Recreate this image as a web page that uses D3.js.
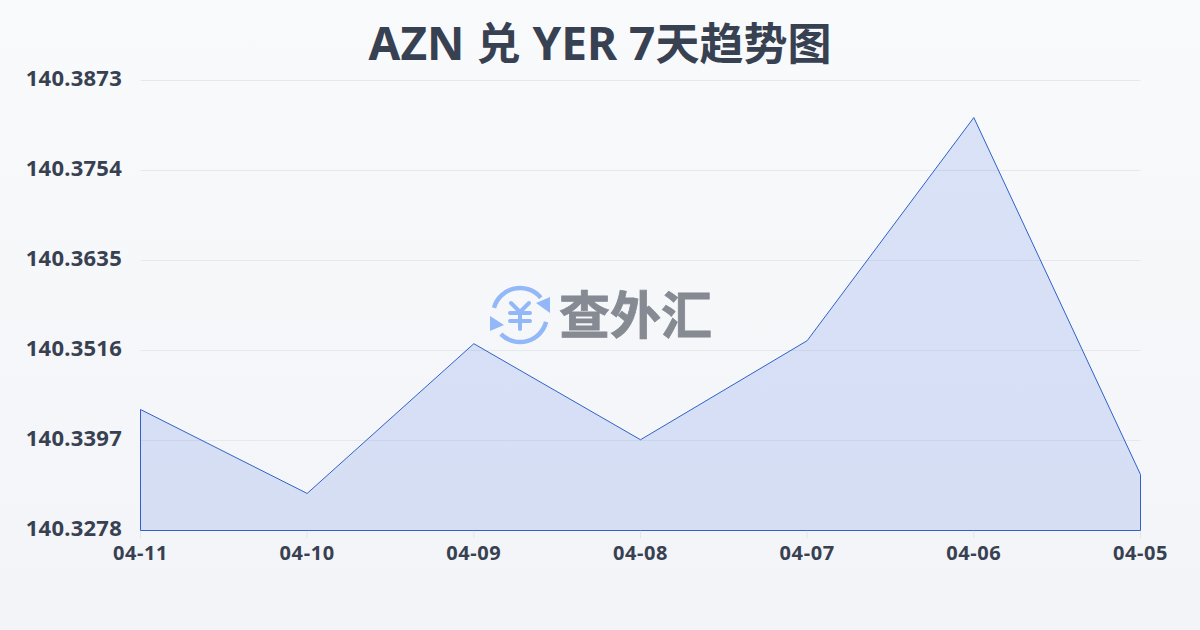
<!DOCTYPE html>
<html><head><meta charset="utf-8">
<style>html,body{margin:0;padding:0;background:#f5f6f9}svg{display:block}</style>
<script src="https://cdn.jsdelivr.net/npm/d3@7/dist/d3.min.js"></script></head>
<body><svg id="c" width="1200" height="630"></svg>
<script>
const dates=["04-11","04-10","04-09","04-08","04-07","04-06","04-05"];
const rates=[140.3438,140.3327,140.3525,140.3398,140.3529,140.3824,140.3352];
const yTicks=[140.3278,140.3397,140.3516,140.3635,140.3754,140.3873];
const titleParts=[["AZN ",46],["兑",44],[" YER 7",46],["天趋势图",44]];
const logoText="查外汇";
const FF='"Noto Sans","Noto Sans CJK SC",sans-serif';
const svg=d3.select("#c");
const defs=svg.append("defs");
const bg=defs.append("linearGradient").attr("id","bg").attr("x1",0).attr("x2",0).attr("y1",0).attr("y2",1);
bg.append("stop").attr("offset",0).attr("stop-color","#f9fafc");
bg.append("stop").attr("offset",1).attr("stop-color","#f3f4f7");
svg.append("rect").attr("width",1200).attr("height",630).attr("fill","url(#bg)");
const x=d3.scalePoint().domain(dates).range([140.5,1140.5]);
const y=d3.scaleLinear().domain([yTicks[0],yTicks[yTicks.length-1]]).range([530.5,80.5]);
svg.append("g").selectAll("line").data(yTicks.slice(1)).join("line")
 .attr("x1",140.5).attr("x2",1140.5).attr("y1",d=>y(d)).attr("y2",d=>y(d))
 .attr("stroke","#e6e8ec").attr("stroke-width",1);
svg.append("g").selectAll("line").data(dates).join("line")
 .attr("x1",d=>x(d)).attr("x2",d=>x(d)).attr("y1",530.5).attr("y2",538)
 .attr("stroke","#e3e5ea");
const area=d3.area().x((d,i)=>x(dates[i])).y0(y(yTicks[0])).y1(d=>y(d));
svg.append("path").datum(rates).attr("d",d=>area(d)+"Z")
 .attr("fill","#3f6fe0").attr("fill-opacity",0.17)
 .attr("stroke","#2f62c8").attr("stroke-width",1).attr("stroke-linejoin","miter");
svg.append("g").selectAll("text").data(yTicks).join("text")
 .attr("x",122).attr("y",d=>y(d)).attr("dy",5).attr("text-anchor","end")
 .attr("font-family",FF).attr("font-weight",700).attr("font-size",22).attr("letter-spacing",0.25).attr("fill","#374151")
 .text(d=>d.toFixed(4));
svg.append("g").selectAll("text").data(dates).join("text")
 .attr("x",d=>x(d)).attr("y",560).attr("text-anchor","middle")
 .attr("font-family",FF).attr("font-weight",700).attr("font-size",20).attr("letter-spacing",0.6).attr("fill","#374151")
 .text(d=>d);
const t=svg.append("text").attr("x",600).attr("y",60).attr("text-anchor","middle")
 .attr("font-family",FF).attr("font-weight",700).attr("fill","#374151");
t.selectAll("tspan").data(titleParts).join("tspan").attr("font-size",d=>d[1]).attr("xml:space","preserve").style("white-space","pre").text(d=>d[0]);
const g=svg.append("g").attr("transform","translate(520,315)");
const blue="#93b8f8";
[[-1.30,0.876],[1.83,3.927]].forEach(a=>{
 g.append("path").attr("d",d3.arc()({innerRadius:27,outerRadius:27,startAngle:a[0],endAngle:a[1]}))
  .attr("fill","none").attr("stroke",blue).attr("stroke-width",4.5).attr("stroke-linecap","round");
});
g.append("path").attr("d","M30,-18L30,-2L16,-12Z").attr("fill",blue);
g.append("path").attr("d","M-30,1L-30,16L-16,10Z").attr("fill",blue);
g.append("path").attr("d","M-9,-12L0,-3L9,-12M-10,-2H10M-10,6H10M0,-3V14")
 .attr("fill","none").attr("stroke",blue).attr("stroke-width",4).attr("stroke-linecap","round").attr("stroke-linejoin","round");
svg.append("text").attr("x",559).attr("y",334).attr("font-family",'"Noto Sans CJK SC",sans-serif')
 .attr("font-weight",700).attr("font-size",51).attr("fill","#868a92").attr("stroke","#868a92").attr("stroke-width",0.8).text(logoText);
</script></body></html>
